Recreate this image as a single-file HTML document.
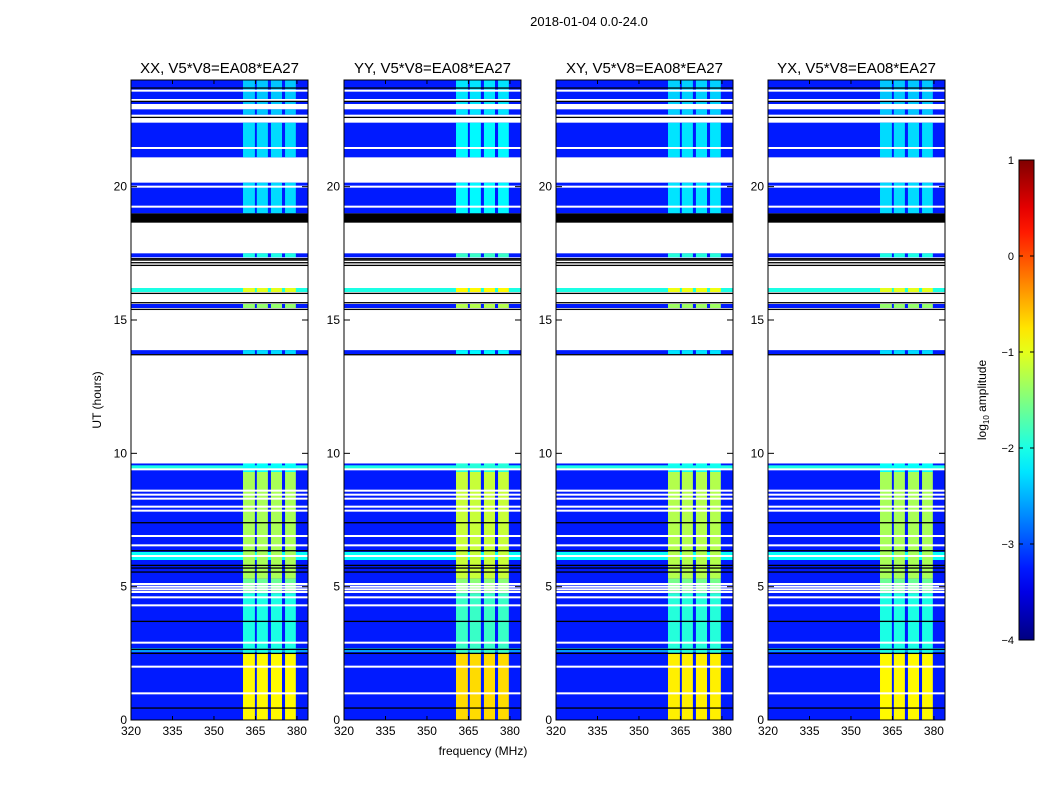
<!DOCTYPE html>
<html><head><meta charset="utf-8"><style>
body{margin:0;background:#fff;font-family:"Liberation Sans",sans-serif;}
svg text{font-family:"Liberation Sans",sans-serif;}
</style></head><body>
<svg id="fig" width="1050" height="800" xmlns="http://www.w3.org/2000/svg">
<rect width="1050" height="800" fill="#fff"/>
<text x="589" y="26" font-size="13" text-anchor="middle">2018-01-04 0.0-24.0</text>
<text x="483" y="755" font-size="12" text-anchor="middle">frequency (MHz)</text>
<text transform="translate(101,400) rotate(-90)" font-size="12" text-anchor="middle">UT (hours)</text>
<g id="panels"></g>
<g id="cbar"></g>
</svg>
<script>
// ---- data ----
const panelTitles = ["XX, V5*V8=EA08*EA27","YY, V5*V8=EA08*EA27","XY, V5*V8=EA08*EA27","YX, V5*V8=EA08*EA27"];
const xTicks = [320,335,350,365,380];
const yTicks = [0,5,10,15,20];
const dataSegments = [[0,9.62],[13.72,13.87],[15.45,15.6],[16.05,16.2],[17.35,17.5],[19.0,20.15],[21.1,22.4],[22.7,22.9],[23.1,24]];
const bgLevel = -3.25;
const bgStripes = [[6.0,6.3,-2.1],[9.42,9.55,-2.0],[16.05,16.2,-2.0],[2.55,2.7,-2.6]];
const channels = [[360.5,364.8],[365.5,369.5],[370.6,374.6],[375.7,379.6]];
const chanBands = [[0,2.5,-0.85],[2.5,4.75,-2.0],[4.75,5.3,-1.6],[5.3,9.3,-1.3],[9.3,9.62,-2.1],[13.72,13.87,-2.3],[15.45,15.6,-1.4],[16.05,16.2,-1.0],[17.35,17.5,-2.0],[19.0,20.15,-2.3],[21.1,22.4,-2.3],[22.7,22.9,-2.4],[23.1,24,-2.4]];
const panelChanOffset = [0,0.15,0.05,0];
const whiteLines = [9.4,8.6,8.45,8.3,8.0,7.85,6.9,6.55,6.15,5.1,5.0,4.9,4.8,4.6,4.3,2.9,2.0,1.0,23.6,23.25,21.45,20.0,19.25];
const blackLines = [0.45,2.5,2.65,3.7,5.55,5.7,5.8,6.35,7.4,17.05,17.15,17.25,17.3,22.6,23.2,23.7,15.4,15.65,13.7,16.0];
const blackBands = [[18.65,19.0]];
const cbTicks = [1,0,-1,-2,-3,-4];

// ---- layout ----
const panelX = [131,344,556,768], PW = 177, PT = 80, PB = 720;
const fMin = 320, fMax = 384, utMax = 24;
const NS="http://www.w3.org/2000/svg";
function jet(v){let t=Math.max(0,Math.min(1,(v+4)/5));
 const c=x=>Math.round(255*Math.max(0,Math.min(1,x)));
 return `rgb(${c(1.5-Math.abs(4*t-3))},${c(1.5-Math.abs(4*t-2))},${c(1.5-Math.abs(4*t-1))})`;}
function el(tag,attrs,parent){const e=document.createElementNS(NS,tag);for(const k in attrs)e.setAttribute(k,attrs[k]);parent.appendChild(e);return e;}
const yS = u => PB - (u/utMax)*(PB-PT);
const panelsG = document.getElementById('panels');
panelX.forEach((x0,pi)=>{
 const xS = f => x0 + (f-fMin)/(fMax-fMin)*PW;
 const g = el('g',{},panelsG);
 
 
 dataSegments.forEach(s=>{
  const r=el('rect',{x:x0,y:yS(s[1]),width:PW,height:yS(s[0])-yS(s[1]),fill:jet(bgLevel)},g);
  
  
 });
 bgStripes.forEach(s=>{
  const r=el('rect',{x:x0,y:yS(s[1]),width:PW,height:yS(s[0])-yS(s[1]),fill:jet(s[2])},g);
  
  
 });
 chanBands.forEach(b=>{channels.forEach(c=>{
  const r=el('rect',{x:xS(c[0]),y:yS(b[1]),width:xS(c[1])-xS(c[0]),height:yS(b[0])-yS(b[1]),fill:jet(b[2]+panelChanOffset[pi])},g);
  
  
 });});
 whiteLines.forEach(u=>{
  const r=el('rect',{x:x0,y:yS(u)-1,width:PW,height:2,fill:'#fff'},g);
  
  
 });
 blackLines.forEach(u=>{
  const r=el('rect',{x:x0,y:yS(u)-0.6,width:PW,height:1.3,fill:'#000'},g);
  
  
 });
 blackBands.forEach(b=>{
  const r=el('rect',{x:x0,y:yS(b[1]),width:PW,height:yS(b[0])-yS(b[1]),fill:'#000'},g);
  
  
 });
 const fr=el('rect',{x:x0,y:PT,width:PW,height:PB-PT,fill:'none',stroke:'#000','stroke-width':1},g);
 
 
 const t=el('text',{x:x0+PW/2,y:PT-7,'font-size':15,'text-anchor':'middle'},g);t.textContent=panelTitles[pi];
 
 
 xTicks.forEach(f=>{
  el('line',{x1:xS(f),x2:xS(f),y1:PB,y2:PB-4,stroke:'#000'},g);
  el('line',{x1:xS(f),x2:xS(f),y1:PT,y2:PT+4,stroke:'#000'},g);
  const tl=el('text',{x:xS(f),y:PB+15,'font-size':12,'text-anchor':'middle'},g);tl.textContent=f;
  
  
 });
 yTicks.forEach(u=>{
  el('line',{x1:x0,x2:x0+6,y1:yS(u),y2:yS(u),stroke:'#000'},g);
  el('line',{x1:x0+PW,x2:x0+PW-6,y1:yS(u),y2:yS(u),stroke:'#000'},g);
  const tl=el('text',{x:x0-4,y:yS(u)+4,'font-size':12,'text-anchor':'end'},g);tl.textContent=u;
  
  
 });
});
// colorbar
const cb=document.getElementById('cbar');
const CBX=1019,CBW=15,CBT=160,CBB=640;
const cbY=v=>CBB-(v+4)/5*(CBB-CBT);
const defs=el('defs',{},cb);const lg=el('linearGradient',{id:'jg',x1:0,y1:1,x2:0,y2:0},defs);
for(let i=0;i<=20;i++){el('stop',{offset:i/20,'stop-color':jet(-4+i*5/20)},lg);}
const cbr=el('rect',{x:CBX,y:CBT,width:CBW,height:CBB-CBT,fill:'url(#jg)',stroke:'#000'},cb);


cbTicks.forEach(v=>{
 el('line',{x1:CBX,x2:CBX+4,y1:cbY(v),y2:cbY(v),stroke:'#000'},cb);
 el('line',{x1:CBX+CBW,x2:CBX+CBW-4,y1:cbY(v),y2:cbY(v),stroke:'#000'},cb);
 const t=el('text',{x:CBX-5,y:cbY(v)+4,'font-size':11,'text-anchor':'end'},cb);t.textContent=(v<0?'\u2212'+(-v):v);
 
 
});
const cl=el('text',{transform:'translate(986,400) rotate(-90)','font-size':12,'text-anchor':'middle'},cb);
cl.innerHTML='log<tspan font-size="8" dy="3">10</tspan><tspan dy="-3"> amplitude</tspan>';


</script>
</body></html>
